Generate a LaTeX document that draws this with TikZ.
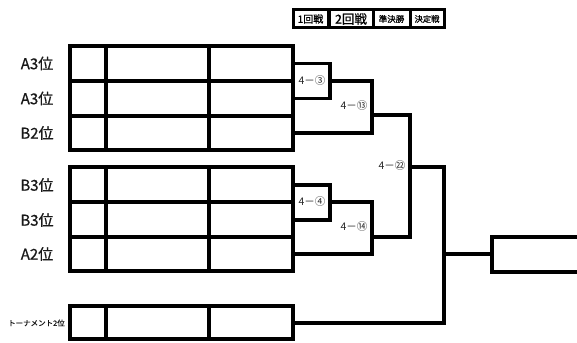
\documentclass[tikz,border=0pt]{standalone}
\usepackage{fontspec}
\setmainfont{Noto Sans CJK JP}
\newfontfamily\heavyjp[FakeBold=0.8]{Noto Sans CJK JP}
\begin{document}
\begin{tikzpicture}[x=1pt,y=-1pt,
  line width=3.2pt,
  hdr/.style={draw,line width=3pt,minimum height=18pt,inner sep=0pt,text=black},
  seed/.style={font=\heavyjp\fontsize{15}{15}\selectfont,text=black!90,inner sep=0pt},
  score/.style={font=\fontsize{10.5}{10.5}\selectfont,text=black!85,inner sep=0pt},
  bracket/.style={line width=3.2pt}]
\useasboundingbox (0,0) rectangle (577,342);

% header
\node[hdr,minimum width=35pt,font=\heavyjp\fontsize{10}{10}\selectfont] (h1) at (310.5,19) {1回戦};
\node[hdr,minimum width=44pt,font=\heavyjp\fontsize{12.5}{12.5}\selectfont] (h2) at (351,19) {2回戦};
\node[hdr,minimum width=37pt,font=\heavyjp\fontsize{8.5}{8.5}\selectfont] (h3) at (391.5,19) {準決勝};
\node[hdr,minimum width=34pt,font=\heavyjp\fontsize{8.3}{8.3}\selectfont] (h4) at (427,19) {決定戦};

% tables
\draw (70,46) rectangle (293,150);
\draw (70,81) -- (293,81) (70,116) -- (293,116);
\draw (106,46) -- (106,150) (209,46) -- (209,150);

\draw (70,167) rectangle (293,271);
\draw (70,202) -- (293,202) (70,237) -- (293,237);
\draw (106,167) -- (106,271) (209,167) -- (209,271);

\draw (70,306) rectangle (293,339);
\draw (106,306) -- (106,339) (209,306) -- (209,339);

% seed labels
\node[seed] (s1) at (37,63.5) {A3位};
\node[seed] (s2) at (37,98.5) {A3位};
\node[seed] (s3) at (37,133) {B2位};
\node[seed] (s4) at (37,185) {B3位};
\node[seed] (s5) at (37,220) {B3位};
\node[seed] (s6) at (37,254) {A2位};
\node[seed,font=\heavyjp\fontsize{7.5}{7.5}\selectfont] (s7) at (36.5,323) {トーナメント2位};

% row ends
\coordinate (r1) at (293,63.5);
\coordinate (r2) at (293,98.5);
\coordinate (r3) at (293,133);
\coordinate (r4) at (293,185);
\coordinate (r5) at (293,220);
\coordinate (r6) at (293,254);
\coordinate (r7) at (293,323);
% junctions
\coordinate (j3) at (330,81);
\coordinate (j13) at (372,115);
\coordinate (j4) at (330,202);
\coordinate (j14) at (372,237);
\coordinate (j22) at (410,167);
\coordinate (jf) at (444,254);
\coordinate (fin) at (492,254);

\draw[bracket] (r1) -| (j3) |- (r2);
\draw[bracket] (j3) -| (j13) |- (r3);
\draw[bracket] (r4) -| (j4) |- (r5);
\draw[bracket] (j4) -| (j14) |- (r6);
\draw[bracket] (j13) -| (j22) |- (j14);
\draw[bracket] (j22) -| (jf) |- (r7);
\draw[bracket] (jf) -- (fin);
\draw[bracket] (577,237) -| (fin) |- (577,272);

% match labels
\node[score] (m3) at (312,80.5) {4－③};
\node[score] (m13) at (354,106) {4－⑬};
\node[score] (m22) at (392,166) {4－㉒};
\node[score] (m4) at (312,202) {4－④};
\node[score] (m14) at (354,227) {4－⑭};
\end{tikzpicture}
\end{document}
